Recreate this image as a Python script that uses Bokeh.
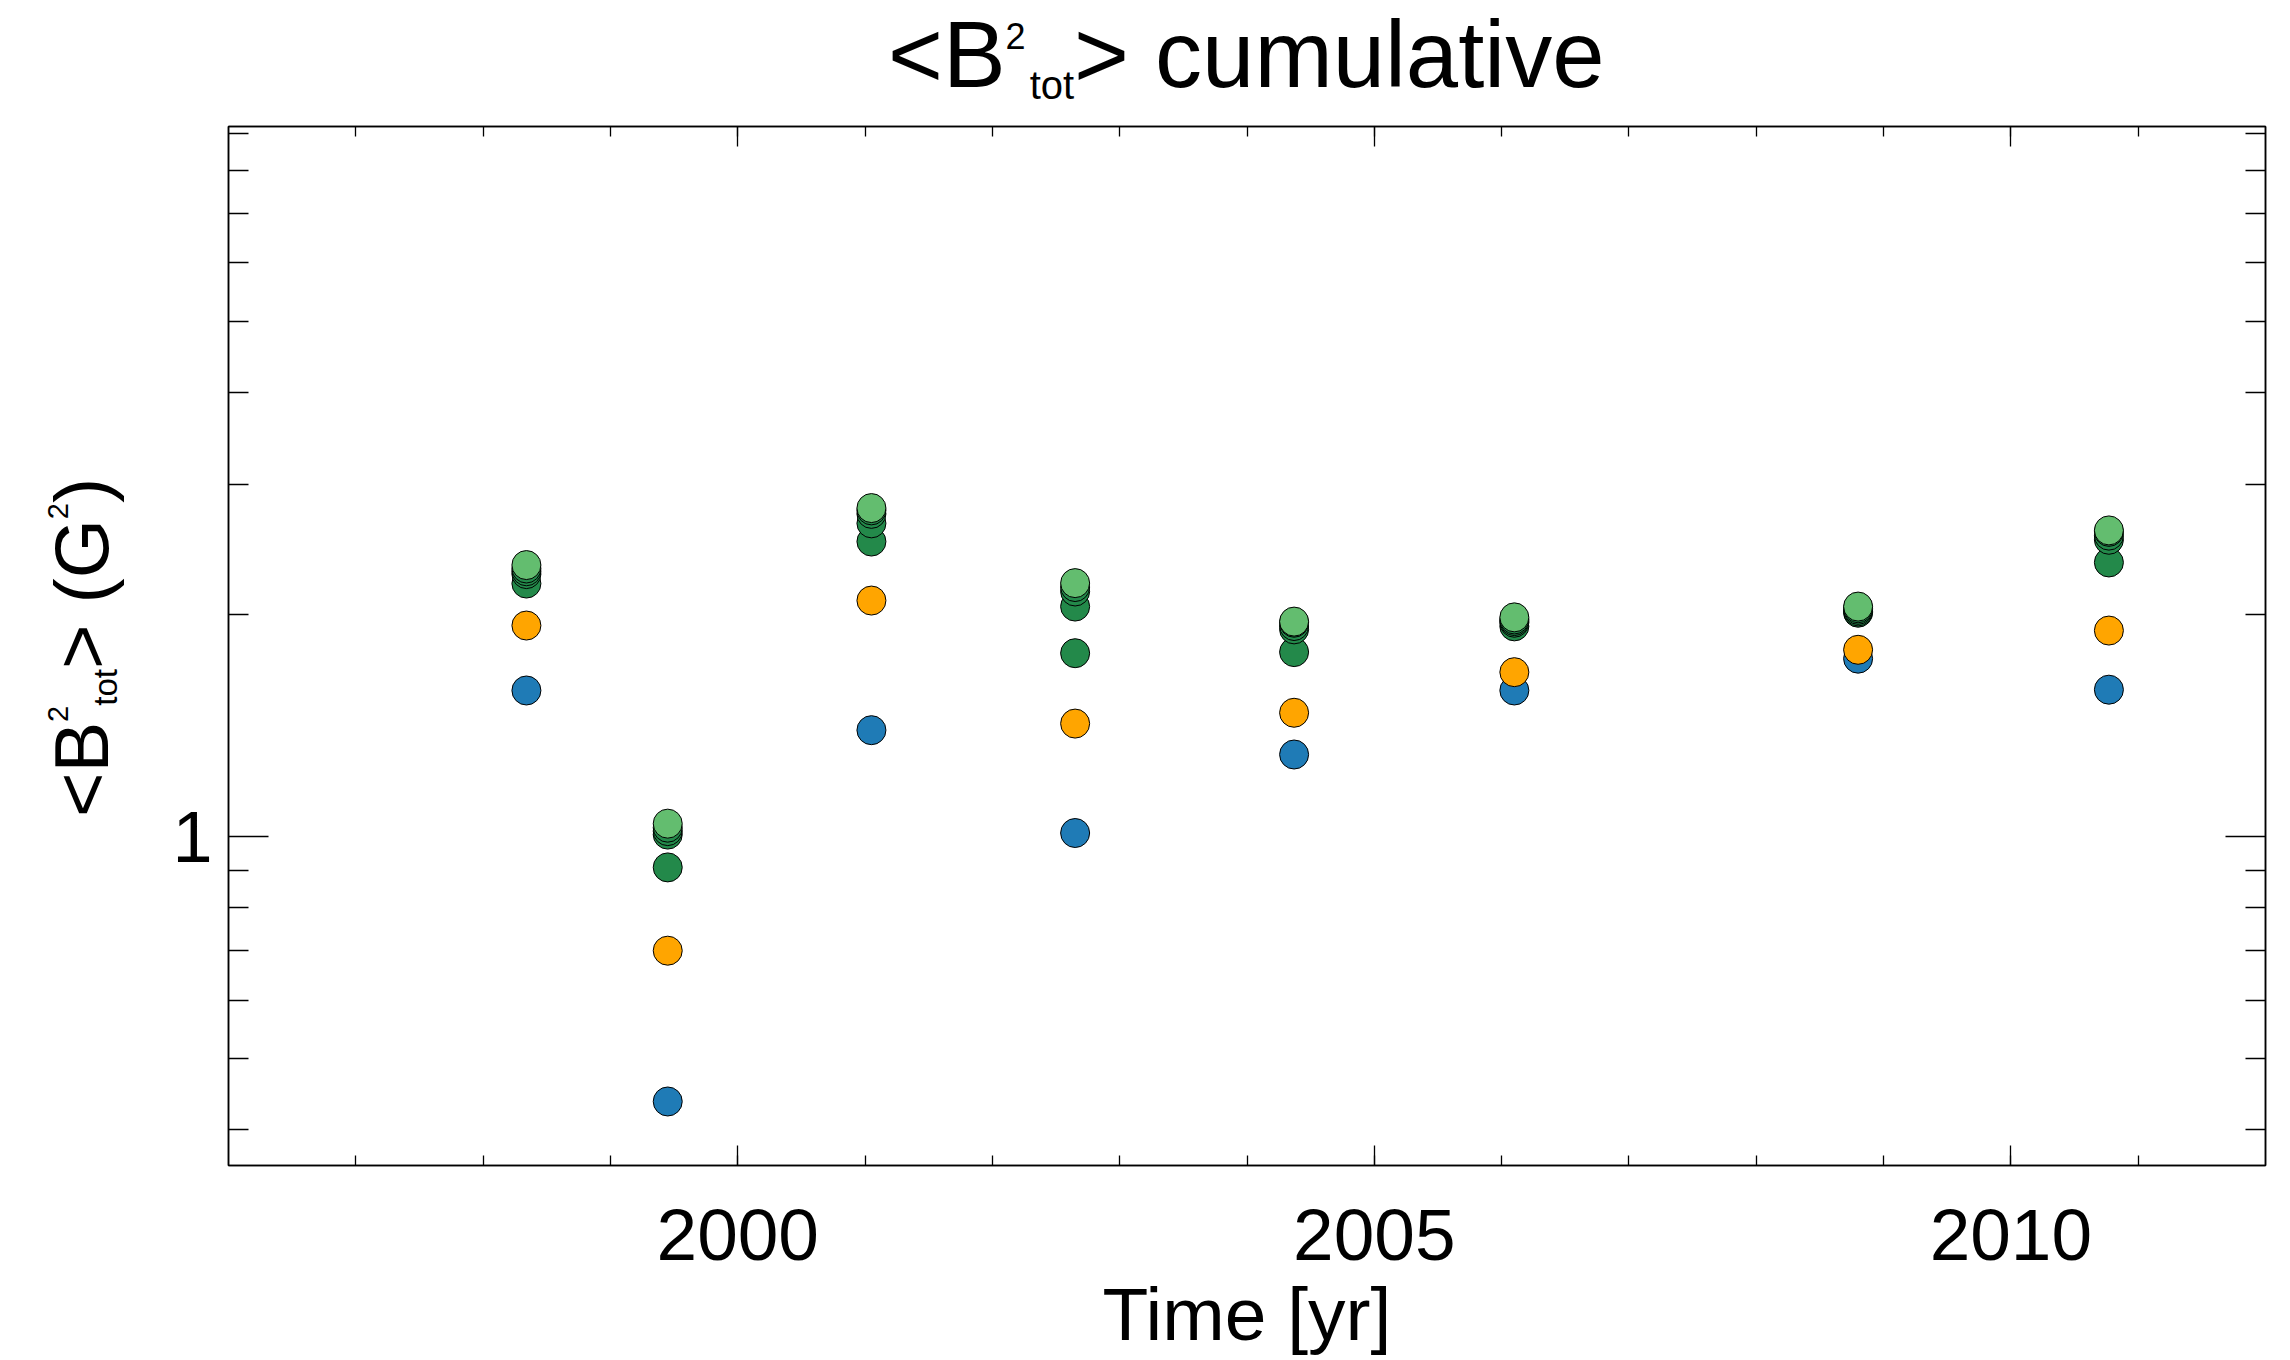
from bokeh.plotting import figure
from bokeh.models import Range1d, FixedTicker, LinearAxis, LogAxis, Div
from bokeh.layouts import column, row
from bokeh.embed import file_html
from bokeh.resources import INLINE

# ---- data ----
years = [1998.34, 1999.45, 2001.05, 2002.65, 2004.37, 2006.10, 2008.80, 2010.77]
s_blue   = [1.578, 0.437, 1.394, 1.011, 1.292, 1.578, 1.743, 1.582]
s_orange = [1.933, 0.700, 2.090, 1.423, 1.472, 1.671, 1.792, 1.903]
s_g1     = [2.204, 0.908, 2.513, 1.773, 1.779, 1.928, 2.012, 2.354]
s_g2     = [2.270, 1.006, 2.660, 2.051, 1.910, 1.950, 2.020, 2.527]
s_g3     = [2.290, 1.017, 2.740, 2.150, 1.930, 1.960, 2.030, 2.560]
s_g4     = [2.310, 1.028, 2.770, 2.180, 1.950, 1.970, 2.040, 2.590]
s_light  = [2.335, 1.041, 2.790, 2.207, 1.957, 1.983, 2.051, 2.602]

x_major = [2000, 2005, 2010]
x_minor = list(range(1997, 2012))
y_major = [1]
y_minor = [0.4, 0.5, 0.6, 0.7, 0.8, 0.9, 2, 3, 4, 5, 6, 7, 8, 9]
x_lo, x_hi = 1996, 2012
y_lo, y_hi = 0.3578, 9.19

colors = ["#1f7bb6", "#ffa500", "#23894a", "#23894a", "#23894a", "#23894a", "#63bd6f"]
series = [s_blue, s_orange, s_g1, s_g2, s_g3, s_g4, s_light]

FONT = "Liberation Sans"
TOTAL_W = 2286
TITLE_H = 106
YLAB_W = 150
PW, PH = TOTAL_W - YLAB_W, 1254

p = figure(width=PW, height=PH, x_range=Range1d(x_lo, x_hi), y_range=Range1d(y_lo, y_hi),
           y_axis_type="log", output_backend="svg", toolbar_location=None,
           min_border_left=78, min_border_right=21, min_border_top=20, min_border_bottom=195,
           margin=(0, 0, 0, 0))
p.title.visible = False
p.xgrid.visible = False
p.ygrid.visible = False
p.outline_line_color = "black"
p.outline_line_width = 1.5
p.background_fill_color = "white"
p.border_fill_color = "white"

x_bottom = p.below[0]
y_left = p.left[0]
x_top = LinearAxis()
y_right = LogAxis()
p.add_layout(x_top, "above")
p.add_layout(y_right, "right")

for ax in [x_bottom, x_top]:
    ax.ticker = FixedTicker(ticks=x_major, minor_ticks=x_minor)
    ax.major_tick_in = 20
    ax.major_tick_out = 0
    ax.minor_tick_in = 10
    ax.minor_tick_out = 0
for ax in [y_left, y_right]:
    ax.ticker = FixedTicker(ticks=y_major, minor_ticks=y_minor)
    ax.major_tick_in = 40
    ax.major_tick_out = 0
    ax.minor_tick_in = 20
    ax.minor_tick_out = 0
for ax in [x_bottom, x_top, y_left, y_right]:
    ax.axis_line_color = "black"
    ax.axis_line_width = 1.5
    ax.major_tick_line_color = "black"
    ax.major_tick_line_width = 1.3
    ax.minor_tick_line_color = "black"
    ax.minor_tick_line_width = 1.3
    ax.major_label_text_font = FONT
    ax.major_label_text_color = "black"

x_bottom.major_label_text_font_size = "73px"
x_bottom.major_label_standoff = 44
x_bottom.axis_label = "Time [yr]"
x_bottom.axis_label_text_font = FONT
x_bottom.axis_label_text_font_size = "75px"
x_bottom.axis_label_text_font_style = "normal"
x_bottom.axis_label_text_color = "black"
x_bottom.axis_label_standoff = 9

y_left.major_label_text_font_size = "72px"
y_left.major_label_standoff = 16
y_left.major_label_overrides = {1: "1"}
y_right.major_label_overrides = {1: "1"}
for ax in [x_top, y_right]:
    ax.major_label_text_font_size = "8px"
    ax.major_label_text_color = None
    ax.major_label_standoff = 0

for vals, col in zip(series, colors):
    p.scatter(years, vals, size=29, fill_color=col, line_color="black", line_width=1)

# ---- title with superscript / subscript (real HTML text) ----
title_html = (
    f'<div style="position:relative;width:{TOTAL_W}px;height:{TITLE_H}px;">'
    f'<div style="position:absolute;left:888px;top:8px;font-family:\'{FONT}\';font-size:94px;'
    'line-height:1;white-space:nowrap;color:black;">'
    '&lt;B<span style="font-size:36px;vertical-align:38px;">2</span>'
    '<span style="font-size:40px;vertical-align:-12px;margin-left:4px;">tot</span>'
    '&gt; cumulative'
    '</div></div>'
)
title_div = Div(text=title_html, width=TOTAL_W, height=TITLE_H, margin=(0, 0, 0, 0))

# ---- rotated y-axis title ----
ylab_html = (
    f'<div style="position:relative;width:{YLAB_W}px;height:{PH}px;">'
    f'<div style="position:absolute;left:44px;top:{817 - TITLE_H}px;transform:rotate(-90deg);'
    f'transform-origin:0 0;font-family:\'{FONT}\';font-size:76px;line-height:1;'
    'white-space:nowrap;color:black;">'
    '&lt;B<span style="font-size:29px;vertical-align:40px;">2</span>'
    '<span style="font-size:33px;vertical-align:-9px;">tot</span>'
    '&gt; (G<span style="font-size:29px;vertical-align:40px;">2</span>)'
    '</div></div>'
)
ylab_div = Div(text=ylab_html, width=YLAB_W, height=PH, margin=(0, 0, 0, 0))

layout = column(title_div, row(ylab_div, p, spacing=0, margin=(0, 0, 0, 0)),
                spacing=0, margin=(0, 0, 0, 0))

open("out.html", "w").write(file_html(layout, INLINE))
